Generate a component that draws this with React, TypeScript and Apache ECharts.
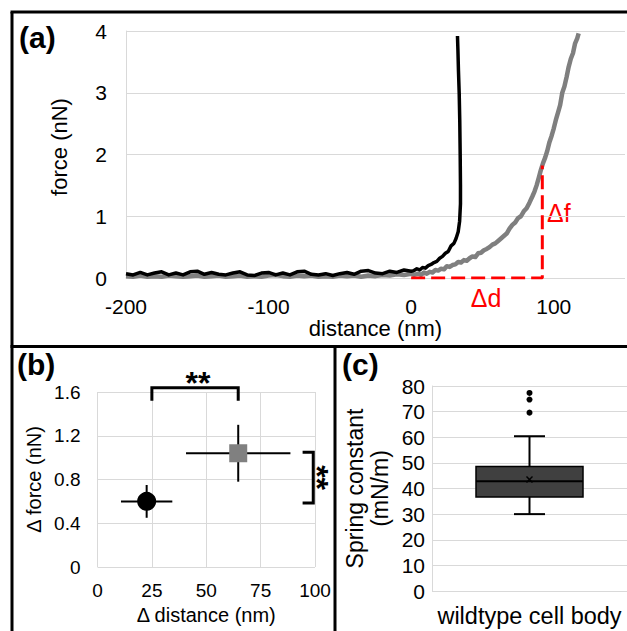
import React, { useEffect, useRef } from "react";
import * as echarts from "echarts";

const FONT = "'Liberation Sans', Arial, Helvetica, sans-serif";
const GRID_COLOR = "#d9d9d9";

// ---------- Panel (a): force-distance curves ----------
const baseDist = [
  -200, -195, -190, -185, -180, -175, -170, -165, -160, -155, -150, -145, -140, -135,
  -130, -125, -120, -115, -110, -105, -100, -95, -90, -85, -80, -75, -70, -65, -60,
  -55, -50, -45, -40, -35, -30, -25, -20, -15, -10, -5, 0,
];
const blackBaseForce = [
  0.07, 0.05, 0.09, 0.05, 0.08, 0.1, 0.05, 0.08, 0.05, 0.1, 0.11, 0.06, 0.09, 0.06,
  0.05, 0.08, 0.1, 0.05, 0.04, 0.08, 0.09, 0.05, 0.08, 0.05, 0.1, 0.11, 0.06, 0.05,
  0.07, 0.04, 0.07, 0.09, 0.06, 0.11, 0.12, 0.08, 0.07, 0.11, 0.09, 0.13, 0.11,
];
const blackRiseDist = [2, 4, 6, 8, 10, 12, 14, 16, 18, 20, 22, 24, 26, 28, 30, 31.5, 33, 34, 34.6, 34.6, 34.4, 34.1, 33.7, 33.2, 32.8, 32.5];
const blackRiseForce = [0.12, 0.15, 0.13, 0.17, 0.16, 0.2, 0.22, 0.25, 0.27, 0.32, 0.35, 0.4, 0.43, 0.52, 0.56, 0.64, 0.75, 0.92, 1.2, 1.5, 2.0, 2.55, 3.0, 3.35, 3.7, 3.92];

const grayBaseForce = [
  0.03, 0.02, 0.04, 0.02, 0.03, 0.02, 0.04, 0.03, 0.02, 0.03, 0.04, 0.02, 0.03, 0.04,
  0.02, 0.03, 0.04, 0.02, 0.03, 0.02, 0.04, 0.05, 0.03, 0.02, 0.04, 0.03, 0.04, 0.02,
  0.03, 0.02, 0.04, 0.03, 0.04, 0.02, 0.04, 0.03, 0.05, 0.04, 0.06, 0.05, 0.07,
];
const grayRiseDist = [
  2, 5, 7, 9, 11, 13, 15, 17, 19, 21, 23, 25, 27, 29, 31, 33, 35, 37, 39, 41, 43, 45, 47,
  49, 51, 53, 55, 57, 59, 61, 63, 65, 67, 69, 71, 73, 75, 77, 79, 81, 83, 85, 86.5, 88,
  89.5, 91, 92.5, 94, 95.5, 97, 98.5, 100, 101.5, 103, 104.5, 106, 107.5, 109, 110.5,
  112, 113.5, 115, 116.5, 117.5,
];
const grayRiseForce = [
  0.05, 0.07, 0.05, 0.09, 0.07, 0.1, 0.09, 0.13, 0.12, 0.15, 0.14, 0.19, 0.18, 0.21,
  0.22, 0.26, 0.25, 0.29, 0.28, 0.32, 0.35, 0.34, 0.4, 0.41, 0.45, 0.47, 0.5, 0.54,
  0.56, 0.6, 0.64, 0.68, 0.72, 0.8, 0.86, 0.9, 0.97, 1.0, 1.08, 1.13, 1.22, 1.32, 1.4,
  1.5, 1.62, 1.75, 1.86, 1.95, 2.06, 2.2, 2.3, 2.42, 2.56, 2.68, 2.8, 3.0, 3.1, 3.25,
  3.42, 3.55, 3.64, 3.8, 3.88, 3.96,
];
const deltaDist = [0, 92, 92];
const deltaForce = [0, 0, 1.82];

// ---------- Panel (b): Δ force vs Δ distance ----------
const bDist = [22.6, 64.7];
const bForce = [0.6, 1.04];
const bDistErr = [11.8, 24.0];
const bForceErr = [0.15, 0.26];
const sigTopX = [25, 64.7];
const sigTopY = [1.64, 1.52];
const sigRightX = [99.2, 94.3];
const sigRightY = [1.05, 0.585];

// ---------- Panel (c): spring constant box plot ----------
const cCategories = ["wildtype cell body"];
const cBox = [30.0, 36.7, 42.8, 48.6, 60.4]; // min, Q1, median, Q3, max
const cMean = [43.5];
const cOutliers = [69.6, 74.7, 77.3];

const zip = (xs: number[], ys: number[]) => xs.map((x, i) => [x, ys[i]]);

export default function App() {
  const ref = useRef<HTMLDivElement>(null);

  useEffect(() => {
    if (!ref.current) return;
    const chart = echarts.init(ref.current, undefined, { renderer: "svg" });

    const tickLabel = (size: number, margin: number) => ({
      fontSize: size,
      color: "#000",
      fontFamily: FONT,
      margin,
    });

    const option: any = {
      animation: false,
      backgroundColor: "#fff",
      textStyle: { fontFamily: FONT, color: "#000" },
      grid: [
        { left: 126, top: 31, width: 499, height: 247 },
        { left: 97.5, top: 392, width: 217.5, height: 175 },
        { left: 432, top: 386, width: 211, height: 205 },
      ],
      xAxis: [
        {
          gridIndex: 0,
          type: "value",
          min: -200,
          max: 150,
          interval: 100,
          axisLine: { show: false },
          axisTick: { show: false },
          splitLine: { show: false },
          axisLabel: { ...tickLabel(21, 18), showMaxLabel: false },
          name: "distance (nm)",
          nameLocation: "middle",
          nameGap: 38,
          nameTextStyle: { fontSize: 22, color: "#000", fontFamily: FONT },
        },
        {
          gridIndex: 1,
          type: "value",
          min: 0,
          max: 100,
          interval: 25,
          axisLine: { show: false },
          axisTick: { show: false },
          splitLine: { show: true, lineStyle: { color: GRID_COLOR, width: 1 } },
          axisLabel: tickLabel(19, 14),
          name: "\u0394 distance (nm)",
          nameLocation: "middle",
          nameGap: 38,
          nameTextStyle: { fontSize: 20, color: "#000", fontFamily: FONT },
        },
        {
          gridIndex: 2,
          type: "category",
          data: cCategories,
          axisLine: { show: false },
          axisTick: { show: false },
          splitLine: { show: false },
          axisLabel: tickLabel(23.5, 13),
        },
      ],
      yAxis: [
        {
          gridIndex: 0,
          type: "value",
          min: 0,
          max: 4,
          interval: 1,
          axisLine: { show: true, onZero: false, lineStyle: { color: GRID_COLOR, width: 1 } },
          axisTick: { show: false },
          splitLine: { show: true, lineStyle: { color: GRID_COLOR, width: 1 } },
          axisLabel: tickLabel(21, 19),
          name: "force (nN)",
          nameLocation: "middle",
          nameGap: 56,
          nameTextStyle: { fontSize: 22, color: "#000", fontFamily: FONT, padding: [0, 0, 0, 15] },
        },
        {
          gridIndex: 1,
          type: "value",
          min: 0,
          max: 1.6,
          interval: 0.4,
          axisLine: { show: false },
          axisTick: { show: false },
          splitLine: { show: true, lineStyle: { color: GRID_COLOR, width: 1 } },
          axisLabel: {
            ...tickLabel(19, 17),
            formatter: (v: number) => (v === 0 ? "0" : v.toFixed(1)),
          },
          name: "\u0394 force (nN)",
          nameLocation: "middle",
          nameGap: 54,
          nameTextStyle: { fontSize: 20, color: "#000", fontFamily: FONT },
        },
        {
          gridIndex: 2,
          type: "value",
          min: 0,
          max: 80,
          interval: 10,
          axisLine: { show: true, onZero: false, lineStyle: { color: GRID_COLOR, width: 1 } },
          axisTick: { show: false },
          splitLine: { show: true, lineStyle: { color: GRID_COLOR, width: 1 } },
          axisLabel: tickLabel(21, 7),
          name: "Spring constant\n(mN/m)",
          nameLocation: "middle",
          nameGap: 40,
          nameTextStyle: { fontSize: 23, lineHeight: 25, color: "#000", fontFamily: FONT },
        },
      ],
      series: [
        {
          type: "line",
          xAxisIndex: 0,
          yAxisIndex: 0,
          data: zip([...baseDist, ...grayRiseDist], [...grayBaseForce, ...grayRiseForce]),
          symbol: "none",
          lineStyle: { color: "#7f7f7f", width: 4.5, join: "round" },
          z: 2,
        },
        {
          type: "line",
          xAxisIndex: 0,
          yAxisIndex: 0,
          data: zip([...baseDist, ...blackRiseDist], [...blackBaseForce, ...blackRiseForce]),
          symbol: "none",
          lineStyle: { color: "#000", width: 3.5, join: "round" },
          z: 3,
        },
        {
          type: "line",
          xAxisIndex: 0,
          yAxisIndex: 0,
          data: zip(deltaDist, deltaForce),
          symbol: "none",
          lineStyle: { color: "#ff0000", width: 3, type: [14, 6] },
          z: 4,
        },
        {
          type: "custom",
          xAxisIndex: 1,
          yAxisIndex: 1,
          z: 2,
          data: bDist.map((d, i) => [d, bForce[i], bDistErr[i], bForceErr[i]]),
          renderItem: (_p: any, api: any) => {
            const x = api.value(0);
            const y = api.value(1);
            const ex = api.value(2);
            const ey = api.value(3);
            const l = api.coord([x - ex, y]);
            const r = api.coord([x + ex, y]);
            const t = api.coord([x, y + ey]);
            const b = api.coord([x, y - ey]);
            return {
              type: "group",
              children: [
                { type: "line", shape: { x1: l[0], y1: l[1], x2: r[0], y2: r[1] }, style: { stroke: "#000", lineWidth: 2 } },
                { type: "line", shape: { x1: t[0], y1: t[1], x2: b[0], y2: b[1] }, style: { stroke: "#000", lineWidth: 2 } },
              ],
            };
          },
        },
        {
          type: "scatter",
          xAxisIndex: 1,
          yAxisIndex: 1,
          z: 5,
          symbol: "circle",
          symbolSize: 19,
          itemStyle: { color: "#000", opacity: 1 },
          data: [[bDist[0], bForce[0]]],
        },
        {
          type: "scatter",
          xAxisIndex: 1,
          yAxisIndex: 1,
          z: 5,
          symbol: "rect",
          symbolSize: 18,
          itemStyle: { color: "#808080", opacity: 1 },
          data: [[bDist[1], bForce[1]]],
        },
        {
          type: "custom",
          xAxisIndex: 1,
          yAxisIndex: 1,
          z: 4,
          clip: false,
          data: [[sigTopX[0], sigTopY[0]]],
          renderItem: (_p: any, api: any) => {
            const a = api.coord([sigTopX[0], sigTopY[1]]);
            const b = api.coord([sigTopX[0], sigTopY[0]]);
            const c = api.coord([sigTopX[1], sigTopY[0]]);
            const d = api.coord([sigTopX[1], sigTopY[1]]);
            const e = api.coord([sigRightX[1], sigRightY[0]]);
            const f = api.coord([sigRightX[0], sigRightY[0]]);
            const g = api.coord([sigRightX[0], sigRightY[1]]);
            const h = api.coord([sigRightX[1], sigRightY[1]]);
            const star = {
              text: "**",
              fontSize: 32,
              fontWeight: "bold",
              fontFamily: FONT,
              fill: "#000",
              align: "center",
              verticalAlign: "middle",
            };
            return {
              type: "group",
              children: [
                {
                  type: "polyline",
                  shape: { points: [a, b, c, d] },
                  style: { stroke: "#000", lineWidth: 3, fill: "none" },
                },
                {
                  type: "polyline",
                  shape: { points: [e, f, g, h] },
                  style: { stroke: "#000", lineWidth: 3, fill: "none" },
                },
                { type: "text", x: (b[0] + c[0]) / 2 + 3, y: b[1] - 5, style: star },
                { type: "text", x: f[0] + 4, y: (f[1] + g[1]) / 2, rotation: -Math.PI / 2, style: star },
              ],
            };
          },
        },
        {
          type: "custom",
          xAxisIndex: 2,
          yAxisIndex: 2,
          z: 2,
          data: [[0, ...cBox, cMean[0]]],
          encode: { x: 0, y: [1, 2, 3, 4, 5, 6] },
          renderItem: (_p: any, api: any) => {
            const cx = api.coord([0, api.value(3)])[0];
            const yy = (dim: number) => api.coord([0, api.value(dim)])[1];
            const yMin = yy(1);
            const yQ1 = yy(2);
            const yMed = yy(3);
            const yQ3 = yy(4);
            const yMax = yy(5);
            const yMean = yy(6);
            const hw = 53.5;
            const cw = 15.5;
            const m = 3;
            const s = { stroke: "#000", lineWidth: 2 };
            return {
              type: "group",
              children: [
                { type: "line", shape: { x1: cx, y1: yMin, x2: cx, y2: yQ1 }, style: s },
                { type: "line", shape: { x1: cx, y1: yQ3, x2: cx, y2: yMax }, style: s },
                { type: "line", shape: { x1: cx - cw, y1: yMin, x2: cx + cw, y2: yMin }, style: s },
                { type: "line", shape: { x1: cx - cw, y1: yMax, x2: cx + cw, y2: yMax }, style: s },
                {
                  type: "rect",
                  shape: { x: cx - hw, y: yQ3, width: hw * 2, height: yQ1 - yQ3 },
                  style: { fill: "#404040", stroke: "#000", lineWidth: 1.5 },
                },
                { type: "line", shape: { x1: cx - hw, y1: yMed, x2: cx + hw, y2: yMed }, style: s },
                { type: "line", shape: { x1: cx - m, y1: yMean - m, x2: cx + m, y2: yMean + m }, style: { stroke: "#000", lineWidth: 1.5 } },
                { type: "line", shape: { x1: cx - m, y1: yMean + m, x2: cx + m, y2: yMean - m }, style: { stroke: "#000", lineWidth: 1.5 } },
              ],
            };
          },
        },
        {
          type: "scatter",
          xAxisIndex: 2,
          yAxisIndex: 2,
          z: 3,
          symbol: "circle",
          symbolSize: 6,
          itemStyle: { color: "#000", opacity: 1 },
          data: cOutliers.map((v) => [0, v]),
        },
      ],
      graphic: [
        { type: "line", shape: { x1: 12, y1: 12, x2: 12, y2: 631 }, style: { stroke: "#000", lineWidth: 3 } },
        { type: "line", shape: { x1: 10.5, y1: 12, x2: 627, y2: 12 }, style: { stroke: "#000", lineWidth: 3 } },
        { type: "line", shape: { x1: 10.5, y1: 346.5, x2: 627, y2: 346.5 }, style: { stroke: "#000", lineWidth: 3 } },
        { type: "line", shape: { x1: 335, y1: 346.5, x2: 335, y2: 631 }, style: { stroke: "#000", lineWidth: 3 } },
        { type: "text", x: 19, y: 22, style: { text: "(a)", fontSize: 30, fontWeight: "bold", fontFamily: FONT, fill: "#000" } },
        { type: "text", x: 17, y: 349, style: { text: "(b)", fontSize: 30, fontWeight: "bold", fontFamily: FONT, fill: "#000" } },
        { type: "text", x: 342, y: 349, style: { text: "(c)", fontSize: 30, fontWeight: "bold", fontFamily: FONT, fill: "#000" } },
        { type: "text", x: 486, y: 298, style: { text: "\u0394d", fontSize: 25, fontFamily: FONT, fill: "#ff0000", align: "center", verticalAlign: "middle" } },
        { type: "text", x: 547, y: 213, style: { text: "\u0394f", fontSize: 25, fontFamily: FONT, fill: "#ff0000", align: "left", verticalAlign: "middle" } },
      ],
    };

    chart.setOption(option);
    return () => chart.dispose();
  }, []);

  return (
    <div
      ref={ref}
      style={{ position: "fixed", left: 0, top: 0, width: 627, height: 631, background: "#fff" }}
    />
  );
}
